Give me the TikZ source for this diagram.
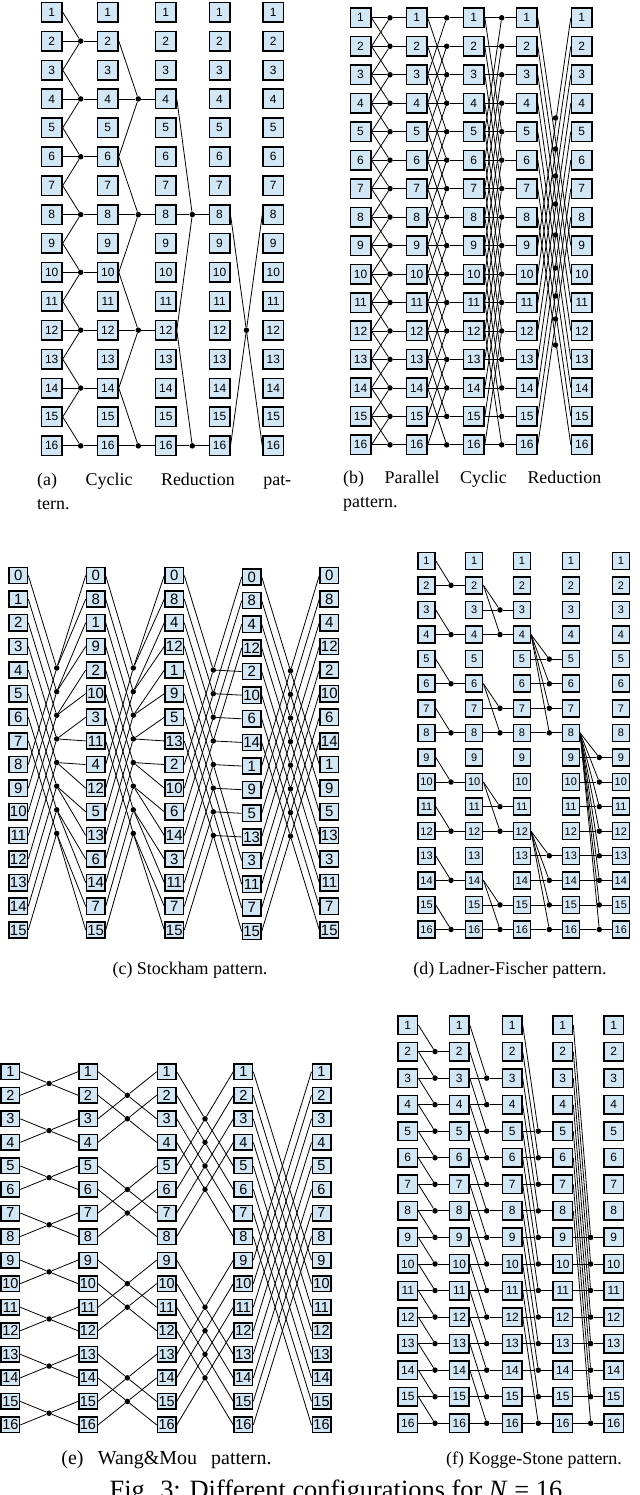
\documentclass[tikz,border=0pt]{standalone}
\usepackage{fontspec}
\setmainfont{Liberation Serif}
\setsansfont{Liberation Sans}
\usetikzlibrary{calc}
\definecolor{boxfill}{RGB}{210,231,245}
\tikzset{
  cell/.style={draw=black, line width=1.5bp, fill=boxfill, inner sep=0pt},
  cellA/.style={cell, minimum width=20.5bp, minimum height=19.5bp, font=\sffamily\fontsize{12}{12}\selectfont},
  cellC/.style={cell, minimum width=18.5bp, minimum height=16.2bp, font=\sffamily\fontsize{15}{15}\selectfont},
  cellD/.style={cell, minimum width=17bp, minimum height=17bp, font=\sffamily\fontsize{11}{11}\selectfont},
  cellE/.style={cell, minimum width=18.5bp, minimum height=15.5bp, font=\sffamily\fontsize{14.5}{14.5}\selectfont},
  cellF/.style={cell, minimum width=19.5bp, minimum height=18.5bp, font=\sffamily\fontsize{12}{12}\selectfont},
  dot/.style={circle, fill=black, inner sep=0pt, minimum size=5.5bp},
  wire/.style={line width=0.8bp, draw=black},
  captext/.style={font=\fontsize{18}{24}\selectfont, inner sep=0pt},
  figtext/.style={font=\fontsize{26.5}{30}\selectfont, inner sep=0pt},
}
% #1 panel #2 column #3 dot x #4 y0 #5 pitch #6 row #7 input offsets
\newcommand\hub[7]{%
  \pgfmathtruncatemacro\hubnext{#2+1}%
  \node[dot] (#1d#2-#6) at (#3,{#4+(#6-1)*#5}) {};
  \foreach \hubo in {#7}{%
    \pgfmathtruncatemacro\hubsrc{#6+(\hubo)}%
    \ifnum\hubsrc>0 \ifnum\hubsrc<17
      \draw[wire] (#1-#2-\hubsrc.east) -- (#1d#2-#6);
    \fi\fi
  }
  \draw[wire] (#1d#2-#6) -- (#1-\hubnext-#6.west);
}
\begin{document}
\begin{tikzpicture}[x=1bp,y=-1bp]
\useasboundingbox (0,0) rectangle (640,1495);

% ---------------- (a) Cyclic Reduction
\foreach \c/\x in {1/51.7,2/107.8,3/165.8,4/219.5,5/273.3}{
  \foreach \r in {1,...,16}{
    \node[cellA] (a-\c-\r) at (\x,{12.2+(\r-1)*28.91}) {\r};
  }
}
\foreach \r in {2,4,...,16}{\hub{a}{1}{80.7}{12.2}{28.91}{\r}{-1,0,1}}
\foreach \r in {4,8,12,16}{\hub{a}{2}{138.3}{12.2}{28.91}{\r}{-2,0,2}}
\foreach \r in {8,16}{\hub{a}{3}{192.3}{12.2}{28.91}{\r}{-4,0,4}}
\node[dot] (ad4) at ($(a-4-8.east)!0.5!(a-5-16.west)$) {};
\draw[wire] (a-4-8.east) -- (ad4) -- (a-5-16.west);
\draw[wire] (a-4-16.east) -- (ad4) -- (a-5-8.west);

% ---------------- (b) Parallel Cyclic Reduction
\foreach \c/\x in {1/360.5,2/416.7,3/473.8,4/526.8,5/581.8}{
  \foreach \r in {1,...,16}{
    \node[cellA] (b-\c-\r) at (\x,{17.8+(\r-1)*28.47}) {\r};
  }
}
\foreach \r in {1,...,16}{\hub{b}{1}{390}{17.8}{28.47}{\r}{-1,0,1}}
\foreach \r in {1,...,16}{\hub{b}{2}{446.7}{17.8}{28.47}{\r}{-2,0,2}}
\foreach \r in {1,...,16}{\hub{b}{3}{501.7}{17.8}{28.47}{\r}{-4,0,4}}
\foreach \r in {1,...,8}{
  \pgfmathtruncatemacro\pr{\r+8}
  \draw[wire] (b-4-\r.east) -- (b-5-\pr.west);
  \draw[wire] (b-4-\pr.east) -- (b-5-\r.west);
}
\foreach \y [count=\i] in {118,149,176,204,235,268,296,319,345}
  {\node[dot] (bd4-\i) at (555.5,\y) {};}

% ---------------- (c) Stockham
\foreach \lab [count=\r from 0] in {0,1,2,3,4,5,6,7,8,9,10,11,12,13,14,15}
  {\node[cellC] (c-1-\r) at (18.3,{575.5+\r*23.63}) {\lab};}
\foreach \lab [count=\r from 0] in {0,8,1,9,2,10,3,11,4,12,5,13,6,14,7,15}
  {\node[cellC] (c-2-\r) at (95.7,{575.5+\r*23.63}) {\lab};}
\foreach \lab [count=\r from 0] in {0,8,4,12,1,9,5,13,2,10,6,14,3,11,7,15}
  {\node[cellC] (c-3-\r) at (174.3,{575.5+\r*23.63}) {\lab};}
\foreach \lab [count=\r from 0] in {0,8,4,12,2,10,6,14,1,9,5,13,3,11,7,15}
  {\node[cellC] (c-4-\r) at (251.7,{577+\r*23.63}) {\lab};}
\foreach \lab [count=\r from 0] in {0,8,4,12,2,10,6,14,1,9,5,13,3,11,7,15}
  {\node[cellC] (c-5-\r) at (329.3,{575.5+\r*23.63}) {\lab};}
\foreach \s/\x in {1/56.7,2/133.3}{
  \pgfmathtruncatemacro\nx{\s+1}
  \foreach \k in {0,...,7}{
    \pgfmathtruncatemacro\kk{\k+8}
    \pgfmathtruncatemacro\oa{2*\k}
    \pgfmathtruncatemacro\ob{2*\k+1}
    \node[dot] (cd\s-\k) at (\x,{573.5+(\k+4)*23.63}) {};
    \draw[wire] (c-\s-\k.east) -- (cd\s-\k);
    \draw[wire] (c-\s-\kk.east) -- (cd\s-\k);
    \draw[wire] (cd\s-\k) -- (c-\nx-\oa.west);
    \draw[wire] (cd\s-\k) -- (c-\nx-\ob.west);
  }
}
\foreach \k in {0,...,7}{
  \pgfmathtruncatemacro\kk{\k+8}
  \pgfmathtruncatemacro\oa{(\k<4)?\k:\k+4}
  \pgfmathtruncatemacro\ob{\oa+4}
  \node[dot] (cd3-\k) at (213.3,{575.5+(\k+4)*23.63}) {};
  \draw[wire] (c-3-\k.east) -- (cd3-\k);
  \draw[wire] (c-3-\kk.east) -- (cd3-\k);
  \draw[wire] (cd3-\k) -- (c-4-\oa.west);
  \draw[wire] (cd3-\k) -- (c-4-\ob.west);
}
\foreach \k in {0,...,7}{
  \pgfmathtruncatemacro\kk{\k+8}
  \node[dot] (cd4-\k) at ($(c-4-\k.east)!0.5!(c-5-\kk.west)$) {};
  \draw[wire] (c-4-\k.east) -- (cd4-\k) -- (c-5-\kk.west);
  \draw[wire] (c-4-\kk.east) -- (cd4-\k) -- (c-5-\k.west);
}

% ---------------- (d) Ladner-Fischer
\foreach \c/\x in {1/426.5,2/474.2,3/521.8,4/570.8,5/620.8}{
  \foreach \r in {1,...,16}{
    \node[cellD] (d-\c-\r) at (\x,{560.8+(\r-1)*24.58}) {\r};
  }
}
\foreach \r in {2,4,...,16}{\hub{d}{1}{451}{560.8}{24.58}{\r}{-1,0}}
\foreach \r/\o in {3/-1,4/-2,7/-1,8/-2,11/-1,12/-2,15/-1,16/-2}{\hub{d}{2}{500}{560.8}{24.58}{\r}{\o,0}}
\foreach \r/\o in {5/-1,6/-2,7/-3,8/-4,13/-1,14/-2,15/-3,16/-4}{\hub{d}{3}{549.3}{560.8}{24.58}{\r}{\o,0}}
\foreach \r in {9,...,16}{
  \pgfmathtruncatemacro\offs{8-\r}
  \hub{d}{4}{599.3}{560.8}{24.58}{\r}{\offs,0}
}

% ---------------- (e) Wang&Mou
\foreach \c/\x in {1/10.3,2/88,3/166.7,4/243.3,5/321.5}{
  \foreach \r in {1,...,16}{
    \node[cellE] (e-\c-\r) at (\x,{1071.7+(\r-1)*23.55}) {\r};
  }
}
\foreach \s/\h in {1/1,2/2,3/4}{
  \pgfmathtruncatemacro\nx{\s+1}
  \foreach \a in {1,...,16}{
    \pgfmathtruncatemacro\inlow{mod(\a-1,2*\h)<\h}
    \ifnum\inlow=1
      \pgfmathtruncatemacro\pb{\a+\h}
      \node[dot] (ed\s-\a) at ($(e-\s-\a.east)!0.5!(e-\nx-\pb.west)$) {};
      \draw[wire] (e-\s-\a.east) -- (ed\s-\a) -- (e-\nx-\pb.west);
      \draw[wire] (e-\s-\pb.east) -- (ed\s-\a) -- (e-\nx-\a.west);
    \fi
  }
}
\foreach \a in {1,...,8}{
  \pgfmathtruncatemacro\pb{\a+8}
  \draw[wire] (e-4-\a.east) -- (e-5-\pb.west);
  \draw[wire] (e-4-\pb.east) -- (e-5-\a.west);
}

% ---------------- (f) Kogge-Stone
\foreach \c/\x in {1/407.8,2/459.3,3/512.2,4/562.8,5/613.7}{
  \foreach \r in {1,...,16}{
    \node[cellF] (f-\c-\r) at (\x,{1025+(\r-1)*26.55}) {\r};
  }
}
\foreach \s/\dd/\x in {1/1/435,2/2/486.7,3/4/538.3,4/8/590.7}{
  \pgfmathtruncatemacro\st{\dd+1}
  \foreach \r in {\st,...,16}{\hub{f}{\s}{\x}{1025}{26.55}{\r}{-\dd,0}}
}

% ---------------- captions
\node[captext, anchor=west, text width=254bp, align=left] (capa) at (37,491)
  {(a)\hfill Cyclic\hfill Reduction\hfill pat-\\tern.};
\node[captext, anchor=west, text width=258bp, align=left] (capb) at (343,491)
  {(b)\hfill Parallel\hfill Cyclic\hfill Reduction\\pattern.};
\node[captext] (capc) at (190,970) {(c) Stockham pattern.};
\node[captext] (capd) at (510,970) {(d) Ladner-Fischer pattern.};
\node[captext, font=\fontsize{20}{24}\selectfont, text width=210bp, align=left] (cape) at (166.5,1460) {(e)\hfill Wang\&Mou\hfill pattern.};
\node[captext] (capf) at (534,1460) {(f) Kogge-Stone pattern.};
\node[figtext, anchor=north] (fig) at (336,1480) {Fig. 3: Different configurations for \textit{N} = 16};
\end{tikzpicture}
\end{document}
